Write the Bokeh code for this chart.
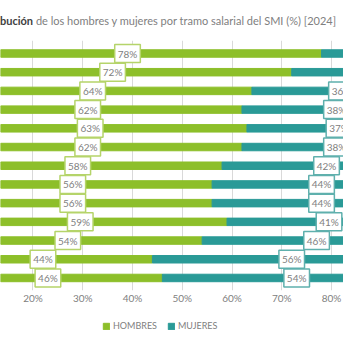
from bokeh.plotting import figure
from bokeh.layouts import column
from bokeh.models import (ColumnDataSource, Range1d, FixedTicker, PrintfTickFormatter,
                          Div, Legend, LegendItem)
from bokeh.core.properties import value
from bokeh.embed import file_html
from bokeh.resources import INLINE

# ---- data ----
hombres = [78, 72, 64, 62, 63, 62, 58, 56, 56, 59, 54, 44, 46]
mujeres = [22, 28, 36, 38, 37, 38, 42, 44, 44, 41, 46, 56, 54]
x_ticks = [20, 30, 40, 50, 60, 70, 80]
title_bold = "bución"
title_rest = "de los hombres y mujeres por tramo salarial del SMI (%) [2024]"
series_names = ["HOMBRES", "MUJERES"]

GREEN = "#8dbf2a"
TEAL = "#2a9a97"
GREY = "#808080"
FONT = "Lato"

rows = list(range(len(hombres)))
src = ColumnDataSource(dict(
    y=rows,
    h_end=hombres,
    m_end=[a + b for a, b in zip(hombres, mujeres)],
    zero=[0] * len(hombres),
    h_mid=[a / 2 for a in hombres],
    m_mid=[a + b / 2 for a, b in zip(hombres, mujeres)],
    h_lab=[f"{v}%" for v in hombres],
    m_lab=[f"{v}%" for v in mujeres],
))

title = Div(
    text=(f'<span style="font-weight:bold;color:#404040">{title_bold}</span> {title_rest}'),
    width=343, height=40, margin=(0, 0, 0, 0),
    styles={"font-family": FONT, "font-size": "11px", "color": GREY,
            "white-space": "nowrap", "padding-top": "14px", "line-height": "14px"},
)

p = figure(frame_width=343, frame_height=250, output_backend="svg", toolbar_location=None,
           x_range=Range1d(13.47, 82.41), y_range=Range1d(12.67, -0.695),
           min_border_left=0, min_border_right=0, min_border_top=0, min_border_bottom=20,
           margin=(0, 0, 0, 0))
p.outline_line_color = None
p.background_fill_color = "white"
p.border_fill_color = "white"

r_h = p.hbar(y="y", left="zero", right="h_end", height=0.4, color=GREEN, source=src)
r_m = p.hbar(y="y", left="h_end", right="m_end", height=0.4, color=TEAL, source=src)

p.yaxis.visible = False
p.ygrid.visible = False
p.xgrid.ticker = FixedTicker(ticks=x_ticks)
p.xgrid.grid_line_color = "#d9d9d9"
p.xaxis.ticker = FixedTicker(ticks=x_ticks)
p.xaxis.formatter = PrintfTickFormatter(format="%d%%")
p.xaxis.axis_line_color = None
p.xaxis.major_tick_line_color = None
p.xaxis.minor_tick_line_color = None
p.xaxis.major_tick_out = 0
p.xaxis.major_tick_in = 0
p.xaxis.major_label_text_color = GREY
p.xaxis.major_label_text_font = FONT
p.xaxis.major_label_text_font_size = "10px"
p.xaxis.major_label_standoff = 1

p.text(x="h_mid", y="y", text="h_lab", source=src, text_align="center",
       text_baseline="middle", text_color=GREY, text_font=value(FONT),
       text_font_size="10px", background_fill_color="white",
       border_line_color="#b5d46a", border_line_width=1.5, padding=3)
p.text(x="m_mid", y="y", text="m_lab", source=src, text_align="center",
       text_baseline="middle", text_color=GREY, text_font=value(FONT),
       text_font_size="10px", background_fill_color="white",
       border_line_color="#5fb0ad", border_line_width=1.5, padding=3)

# legend strip (its own small figure so the legend is not clipped);
# the key renderers sit outside the strip's visible range and only provide the swatches
lf = figure(width=343, height=33, output_backend="svg", toolbar_location=None,
            x_range=Range1d(0, 1), y_range=Range1d(0, 1),
            min_border_left=0, min_border_right=0, min_border_top=0, min_border_bottom=0,
            margin=(0, 0, 0, 0))
lf.axis.visible = False
lf.grid.visible = False
lf.outline_line_color = None
lg_h = lf.quad(left=[5], right=[6], top=[6], bottom=[5], fill_color=GREEN, line_color=GREEN)
lg_m = lf.quad(left=[5], right=[6], top=[6], bottom=[5], fill_color=TEAL, line_color=TEAL)
legend = Legend(items=[LegendItem(label=series_names[0], renderers=[lg_h]),
                       LegendItem(label=series_names[1], renderers=[lg_m])],
                orientation="horizontal", location=(102, 12),
                glyph_width=8, glyph_height=8, label_text_font=FONT,
                label_text_font_size="9px", label_text_color=GREY,
                label_height=8, spacing=10, label_standoff=3, border_line_color=None,
                background_fill_alpha=0, padding=2, margin=0)
lf.add_layout(legend)

layout = column(title, p, lf, spacing=0, margin=(0, 0, 0, 0))
open("out.html", "w").write(file_html(layout, INLINE))
